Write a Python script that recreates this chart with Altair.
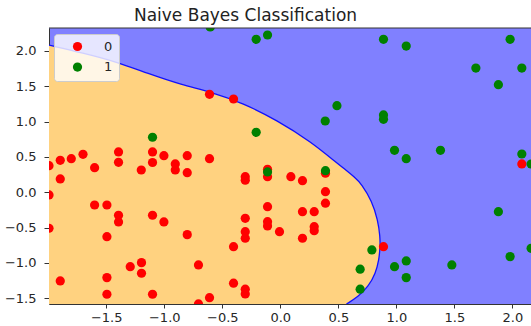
import altair as alt
import pandas as pd

# ---- data ----
red_x = [-1.993, -1.896, -1.801, -1.700, -1.600, -1.394, -1.394, -1.198, -1.101, -1.101,
         -1.003, -0.905, -0.905, -0.802, -0.802, -0.610, -0.610, -0.403, -1.896, -1.993,
         -1.600, -1.494, -1.394, -1.394, -1.101, -1.003, -1.993, -1.494, -0.802, -0.302,
         -0.302, -0.110, -0.110, -0.302, -0.110, -0.302, -0.302, -0.110, -0.110, -0.403,
         -1.196, -1.293, -1.196, -0.705, -1.494, -1.896, -0.403, -0.302, -0.302, -1.494,
         -1.101, -0.610, -0.705, 0.091, 0.191, 0.389, 0.389, 0.389, 0.191, 0.292,
         -0.007, 0.292, 0.292, 0.191, 0.889, 2.081]
red_y = [0.376, 0.452, 0.475, 0.537, 0.348, 0.570, 0.424, 0.315, 0.570, 0.421,
         0.517, 0.400, 0.315, 0.517, 0.277, 0.475, 1.385, 1.319, 0.188, -0.038,
         -0.180, -0.180, -0.325, -0.420, -0.325, -0.420, -0.509, -0.628, -0.599, 0.221,
         0.170, 0.325, 0.221, -0.368, -0.204, -0.557, -0.650, -0.416, -0.476, -0.769,
         -0.995, -1.052, -1.145, -1.028, -1.207, -1.254, -1.286, -1.371, -1.438, -1.442,
         -1.442, -1.490, -1.579, 0.221, 0.164, 0.269, 0.008, -0.155, -0.274, -0.274,
         -0.557, -0.486, -0.543, -0.650, -0.769, 0.400]

green_x = [-0.604, -0.208, -0.110, 0.889, 1.085, 1.980, 1.685, 2.081, 1.879, 0.488,
           0.387, 0.889, 0.889, -1.101, -0.208, 0.984, 1.085, 1.380, 2.081, 2.161,
           -0.110, 0.389, 0.789, 0.688, 0.688, 0.984, 1.085, 1.085, 1.478, 1.980,
           1.879, 2.161]
green_y = [2.337, 2.163, 2.224, 2.163, 2.068, 2.163, 1.757, 1.757, 1.521, 1.224,
           1.008, 1.093, 1.032, 0.778, 0.848, 0.594, 0.475, 0.594, 0.541, 0.400,
           0.287, 0.305, -0.816, -1.088, -1.371, -1.052, -0.971, -1.207, -1.028, -0.910,
           -0.274, -0.792]

# decision boundary, from the top-left edge down to the bottom edge
boundary_x = [-1.993, -1.70, -1.42, -1.14, -0.85, -0.60, -0.32, -0.03, 0.26, 0.49, 0.565,
              0.635, 0.70, 0.79, 0.84, 0.86, 0.86, 0.85, 0.82, 0.76, 0.67, 0.57]
boundary_y = [2.08, 1.97, 1.85, 1.68, 1.52, 1.42, 1.26, 1.02, 0.72, 0.41, 0.315,
              0.22, 0.12, -0.13, -0.39, -0.63, -0.77, -0.96, -1.15, -1.33, -1.48, -1.58]

x_ticks = [-1.5, -1.0, -0.5, 0.0, 0.5, 1.0, 1.5, 2.0]
y_ticks = [-1.5, -1.0, -0.5, 0.0, 0.5, 1.0, 1.5, 2.0]
x_domain = [-1.993, 2.16]
y_domain = [-1.58, 2.323]
class_names = ["0", "1"]
class_colors = ["#ff0000", "#008000"]
title_text = "Naive Bayes Classification"

# ---- tables ----
points = pd.DataFrame({
    "x": red_x + green_x,
    "y": red_y + green_y,
    "cls": [class_names[0]] * len(red_x) + [class_names[1]] * len(green_x),
})
boundary = pd.DataFrame({"bx": boundary_x, "by": boundary_y, "i": list(range(len(boundary_x)))})
frame = pd.DataFrame({"k": [0]})

W, H = 482, 276
FONT = "DejaVu Sans"

xs = alt.Scale(domain=x_domain, nice=False, zero=False)
ys = alt.Scale(domain=y_domain, nice=False, zero=False)
xaxis = alt.Axis(values=x_ticks, format=".1f", title=None, grid=False, tickSize=4,
                 labelPadding=3, labelOverlap=False)
yaxis = alt.Axis(values=y_ticks, format=".1f", title=None, grid=False, tickSize=5,
                 labelPadding=8, labelOverlap=False)

area = alt.Chart(boundary).mark_area(
    orient="horizontal", color="#ffd280", opacity=1, interpolate="basis", clip=True
).encode(
    y=alt.Y("by:Q", scale=ys, axis=yaxis),
    x=alt.X("bx:Q", scale=xs, axis=xaxis),
    x2=alt.datum(x_domain[0]),
)

line = alt.Chart(boundary).mark_line(
    color="#1010ff", strokeWidth=1.3, interpolate="basis", clip=True
).encode(
    x=alt.X("bx:Q", scale=xs, axis=xaxis),
    y=alt.Y("by:Q", scale=ys, axis=yaxis),
    order=alt.Order("i:Q"),
)

pts = alt.Chart(points).mark_circle(size=85, opacity=1, clip=True).encode(
    x=alt.X("x:Q", scale=xs, axis=xaxis),
    y=alt.Y("y:Q", scale=ys, axis=yaxis),
    color=alt.Color(
        "cls:N",
        scale=alt.Scale(domain=class_names, range=class_colors),
        legend=alt.Legend(
            title=None, orient="none", legendX=5, legendY=6, padding=6,
            fillColor="rgba(255,255,255,0.8)", strokeColor="#cccccc", cornerRadius=3,
            symbolType="circle", symbolSize=85, symbolOffset=11, labelOffset=20,
            rowPadding=6.6, labelFontSize=13, labelFont=FONT, labelColor="#262626",
            symbolStrokeWidth=0,
        ),
    ),
)

top = alt.Chart(frame).mark_rule(color="#333333", strokeWidth=1).encode(
    y=alt.value(0), x=alt.value(0), x2=alt.value(W)
)

chart = alt.layer(area, line, pts, top).properties(
    width=W,
    height=H,
    title=alt.TitleParams(
        text=title_text, fontSize=17, font=FONT, fontWeight="normal", color="#222222",
        anchor="middle", dx=-44.5, dy=18, offset=8, baseline="alphabetic",
    ),
    autosize=alt.AutoSizeParams(type="none"),
    padding={"left": 49, "top": 28, "right": 0, "bottom": 22},
).configure_view(
    fill="#8080ff", strokeWidth=0
).configure_axis(
    labelFont=FONT, labelFontSize=13, labelColor="#262626",
    tickColor="#333333", domainColor="#333333", tickWidth=1, domainWidth=1,
)

chart.save("out.html", embed_options={"renderer": "svg", "actions": False})
